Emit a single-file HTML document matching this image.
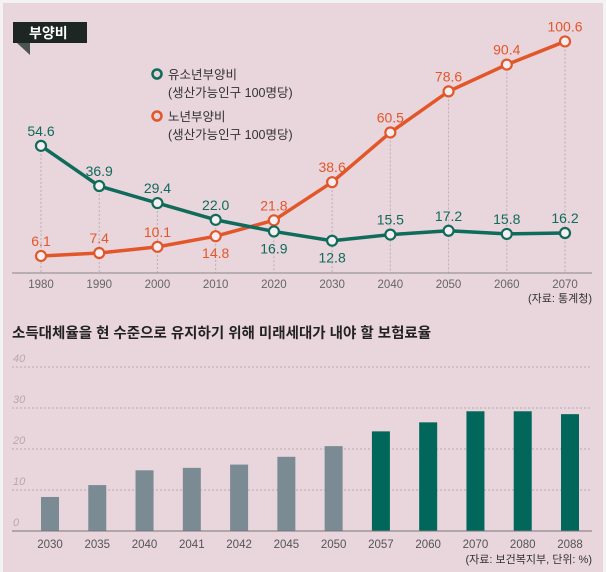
<!DOCTYPE html>
<html><head><meta charset="utf-8"><style>
html,body{margin:0;padding:0}
body{width:606px;height:572px;overflow:hidden;background:#f3f3f3;font-family:"Liberation Sans","Noto Sans CJK KR",sans-serif}
svg{display:block}
</style></head><body>
<svg id="c" width="606" height="572" viewBox="0 0 606 572">
<rect x="3" y="3" width="600" height="569" fill="#e9d5dc"/>
<g>
<rect x="13" y="22" width="74" height="21" fill="#1e2624"/>
<polygon points="17,43 30,43 30,55" fill="#4a5553"/>
<text x="29" y="38" font-size="14" font-weight="bold" fill="#fff">부양비</text>
</g>
<g font-size="12.5" fill="#333">
<circle cx="157" cy="74" r="4.5" fill="none" stroke="#0f6b5a" stroke-width="2.5"/>
<text x="168" y="79">유소년부양비</text>
<text x="168" y="97">(생산가능인구 100명당)</text>
<circle cx="157" cy="116" r="4.5" fill="none" stroke="#e2572a" stroke-width="2.5"/>
<text x="168" y="121">노년부양비</text>
<text x="168" y="139">(생산가능인구 100명당)</text>
</g>
<g id="line"></g>
<text x="12" y="338" font-size="14.5" font-weight="bold" fill="#222">소득대체율을 현 수준으로 유지하기 위해 미래세대가 내야 할 보험료율</text>
<g id="bars"></g>
<text x="592" y="302" font-size="11" fill="#333" text-anchor="end">(자료: 통계청)</text>
<text x="592" y="563" font-size="11" fill="#333" text-anchor="end">(자료: 보건복지부, 단위: %)</text>
</svg>
<script>
const years=[1980,1990,2000,2010,2020,2030,2040,2050,2060,2070];
const youth=[54.6,36.9,29.4,22.0,16.9,12.8,15.5,17.2,15.8,16.2];
const elderly=[6.1,7.4,10.1,14.8,21.8,38.6,60.5,78.6,90.4,100.6];
const youthLabelPos=['above','above','above','above','below','below','above','above','above','above'];
const elderlyLabelPos=['above','above','above','below','above','above','above','above','above','above'];
const barCats=['2030','2035','2040','2041','2042','2045','2050','2057','2060','2070','2080','2088'];
const barVals=[8.3,11.2,14.8,15.4,16.2,18.1,20.7,24.3,26.5,29.2,29.2,28.5];
const barTicks=[0,10,20,30,40];
const NS='http://www.w3.org/2000/svg';
function mk(t,a,p){const e=document.createElementNS(NS,t);for(const k in a)e.setAttribute(k,a[k]);p.appendChild(e);return e;}
const lx=i=>41+i*(565-41)/(years.length-1);
const ly=v=>269.8-2.27*v;
const L=document.getElementById('line');
for(let i=0;i<years.length;i++){
 const top=Math.min(ly(youth[i]),ly(elderly[i]));
 const g=mk('line',{x1:lx(i),x2:lx(i),y1:top,y2:273,stroke:'#b9b0b4','stroke-width':1,'stroke-dasharray':'2,2'},L);
 
 
 const t=mk('text',{x:lx(i),y:288,'font-size':11.5,fill:'#666','text-anchor':'middle'},L);
 t.textContent=years[i];
 
 
}
const ax=mk('line',{x1:12,x2:592,y1:273,y2:273,stroke:'#888','stroke-width':1},L);


function series(vals,col,pos,name){
 const p=mk('polyline',{points:vals.map((v,i)=>lx(i)+','+ly(v)).join(' '),fill:'none',stroke:col,'stroke-width':3.5,'stroke-linejoin':'round'},L);
 
 
 vals.forEach((v,i)=>{
  const c=mk('circle',{cx:lx(i),cy:ly(v),r:5,fill:'#f6eef1',stroke:col,'stroke-width':2.2},L);
  
  
  const t=mk('text',{x:lx(i),y:pos[i]==='above'?ly(v)-10:ly(v)+22,'font-size':14,fill:col,'text-anchor':'middle'},L);
  t.textContent=v.toFixed(1);
  
  
 });
}
series(elderly,'#e2572a',elderlyLabelPos,'elderly');
series(youth,'#0f6b5a',youthLabelPos,'youth');
const B=document.getElementById('bars');
const bx=i=>50+i*(570-50)/(barCats.length-1);
const by=v=>531-4.1*v;
barTicks.forEach(t=>{
 if(t>0){const g=mk('line',{x1:12,x2:592,y1:by(t),y2:by(t),stroke:'#b8abb0','stroke-width':1,'stroke-dasharray':'2,2'},B);
 
 }
 const l=mk('text',{x:13,y:by(t)-5,'font-size':11,'font-style':'italic',fill:'#b5a9ae'},B);
 l.textContent=t;
 
 
});
barCats.forEach((c,i)=>{
 const r=mk('rect',{x:bx(i)-9,y:by(barVals[i]),width:18,height:531-by(barVals[i]),fill:i<7?'#7b8b93':'#00675a'},B);
 
 
 const t=mk('text',{x:bx(i),y:548,'font-size':11.5,fill:'#555','text-anchor':'middle'},B);
 t.textContent=c;
 
 
});
const bax=mk('line',{x1:12,x2:592,y1:531,y2:531,stroke:'#777','stroke-width':1},B);


</script>
</body></html>
